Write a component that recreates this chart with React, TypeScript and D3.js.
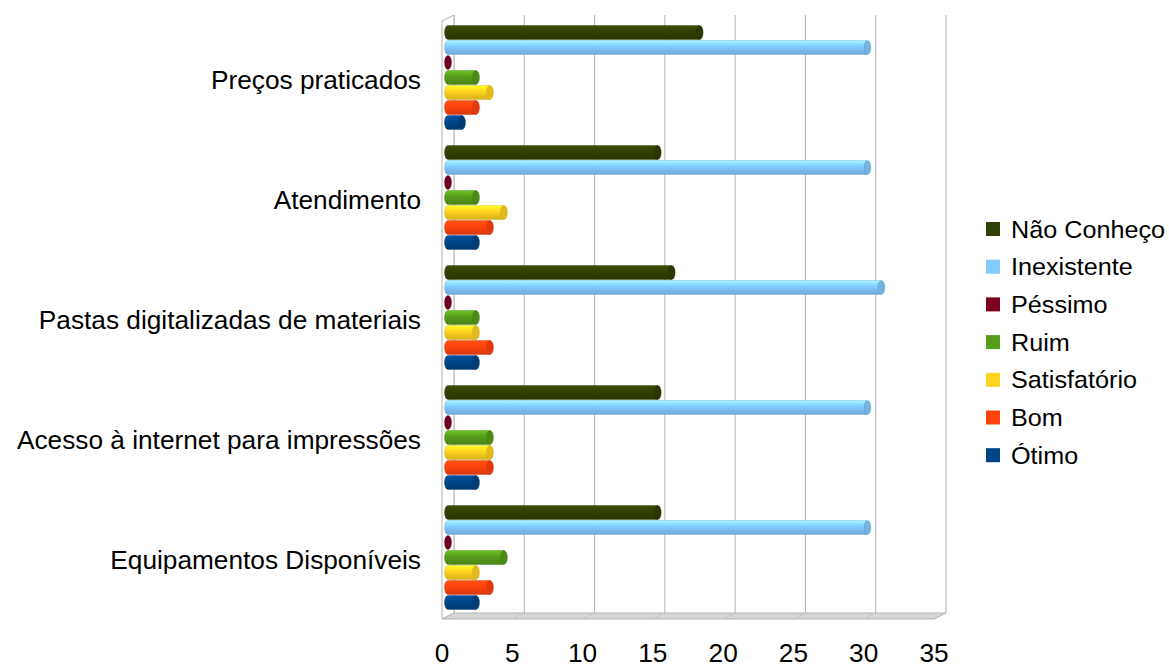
import React from 'react';
import * as d3 from 'd3';

const categories = [
  'Preços praticados',
  'Atendimento',
  'Pastas digitalizadas de materiais',
  'Acesso à internet para impressões',
  'Equipamentos Disponíveis',
];
const seriesNames = ['Não Conheço', 'Inexistente', 'Péssimo', 'Ruim', 'Satisfatório', 'Bom', 'Ótimo'];
const seriesColors = ['#314004', '#83caff', '#7e0021', '#579d1c', '#ffd320', '#ff420e', '#004586'];
const naoConheco = [18, 15, 16, 15, 15];
const inexistente = [30, 30, 31, 30, 30];
const pessimo = [0, 0, 0, 0, 0];
const ruim = [2, 2, 2, 3, 4];
const satisfatorio = [3, 4, 2, 3, 2];
const bom = [2, 3, 3, 3, 3];
const otimo = [1, 2, 2, 2, 2];
const xTicks = [0, 5, 10, 15, 20, 25, 30, 35];

const seriesValues = [naoConheco, inexistente, pessimo, ruim, satisfatorio, bom, otimo];

const FONT = '"Liberation Sans", Arial, sans-serif';
const SX = 1.05;

export default function App() {
  const W = 1169, H = 666;
  const dx = 12, dy = -6;
  const frontTop = 21, frontBottom = 619;
  const xFront = d3.scaleLinear().domain([0, 35]).range([442, 934]);
  const xBack = (v: number) => xFront(v) + dx;
  const xBar = d3.scaleLinear().domain([0, 35]).range([448, 448 + 35 * 13.98]);
  const yCat = d3.scaleBand<string>().domain(categories).range([18, 618]).paddingInner(0.125).paddingOuter(0.0625);
  const ySer = d3.scaleBand<string>().domain(seriesNames).range([0, yCat.bandwidth()]);
  const rx = 3.5, ry = 7;
  const gridColor = '#b3b3b3';

  const grads = seriesColors.map((c, i) => {
    const base = d3.color(c)!;
    return {
      id: `g${i}`,
      top: base.brighter(0.6).formatHex(),
      mid: base.formatHex(),
      bot: base.darker(0.5).formatHex(),
      cap: base.darker(0.35).formatHex(),
      stroke: base.darker(0.7).formatHex(),
    };
  });

  return (
    <svg width={W} height={H} style={{ position: 'absolute', left: 0, top: 0, background: '#fff' }} fontFamily={FONT}>
      <defs>
        {grads.map((g) => (
          <linearGradient key={g.id} id={g.id} x1="0" y1="0" x2="0" y2="1">
            <stop offset="0" stopColor={g.top} />
            <stop offset="0.45" stopColor={g.mid} />
            <stop offset="1" stopColor={g.bot} />
          </linearGradient>
        ))}
      </defs>
      <rect width={W} height={H} fill="#fff" />
      {/* back wall gridlines */}
      {xTicks.map((t) => (
        <line key={`gl${t}`} x1={xBack(t)} x2={xBack(t)} y1={frontTop + dy} y2={frontBottom + dy} stroke={gridColor} strokeWidth={1} />
      ))}
      {/* left wall */}
      <path
        d={`M${xFront(0)},${frontBottom} L${xFront(0)},${frontTop} L${xBack(0)},${frontTop + dy} L${xBack(0)},${frontBottom + dy} Z`}
        fill="#fff"
        stroke={gridColor}
        strokeWidth={1}
      />
      {/* floor */}
      <path
        d={`M${xFront(0)},${frontBottom} L${xBack(0)},${frontBottom + dy} L${xBack(35)},${frontBottom + dy} L${xFront(35)},${frontBottom} Z`}
        fill="#d6d6d6"
        stroke={gridColor}
        strokeWidth={1}
      />
      {xTicks.map((t) => (
        <line key={`fl${t}`} x1={xFront(t)} x2={xBack(t)} y1={frontBottom} y2={frontBottom + dy} stroke="#c4c4c4" strokeWidth={1} />
      ))}
      {/* bars */}
      {categories.map((cat, ci) => (
        <g key={cat}>
          {seriesNames.map((s, si) => {
            const v = seriesValues[si][ci];
            const g = grads[si];
            const y = (yCat(cat) as number) + (ySer(s) as number);
            const x0 = xBar(0);
            const x1 = xBar(v);
            const body = `M${x0},${y} L${x1},${y} L${x1},${y + 2 * ry} L${x0},${y + 2 * ry} A${rx},${ry} 0 0 1 ${x0},${y} Z`;
            return (
              <g key={s}>
                {v > 0 && <path d={body} fill={`url(#${g.id})`} stroke={g.stroke} strokeWidth={0.6} strokeOpacity={0.6} />}
                <ellipse cx={x1} cy={y + ry} rx={rx} ry={ry} fill={g.cap} stroke={g.stroke} strokeWidth={0.6} strokeOpacity={0.6} />
              </g>
            );
          })}
        </g>
      ))}
      {/* category labels */}
      {categories.map((cat) => (
        <text
          key={`cl${cat}`}
          transform={`translate(421,${(yCat(cat) as number) + yCat.bandwidth() / 2 + 11}) scale(${SX},1)`}
          textAnchor="end"
          fontSize={25}
          fill="#000"
        >
          {cat}
        </text>
      ))}
      {/* x tick labels */}
      {xTicks.map((t) => (
        <text
          key={`tl${t}`}
          transform={`translate(${xFront(t)},662) scale(${SX},1)`}
          textAnchor="middle"
          fontSize={25}
          fill="#000"
        >
          {t}
        </text>
      ))}
      {/* legend */}
      {seriesNames.map((s, i) => {
        const cy = 229 + i * 37.7;
        return (
          <g key={`lg${s}`}>
            <rect x={986} y={cy - 7} width={14} height={14} fill={seriesColors[i]} />
            <text transform={`translate(1011,${cy + 8.5}) scale(${SX},1)`} fontSize={24} fill="#000">
              {s}
            </text>
          </g>
        );
      })}
    </svg>
  );
}
